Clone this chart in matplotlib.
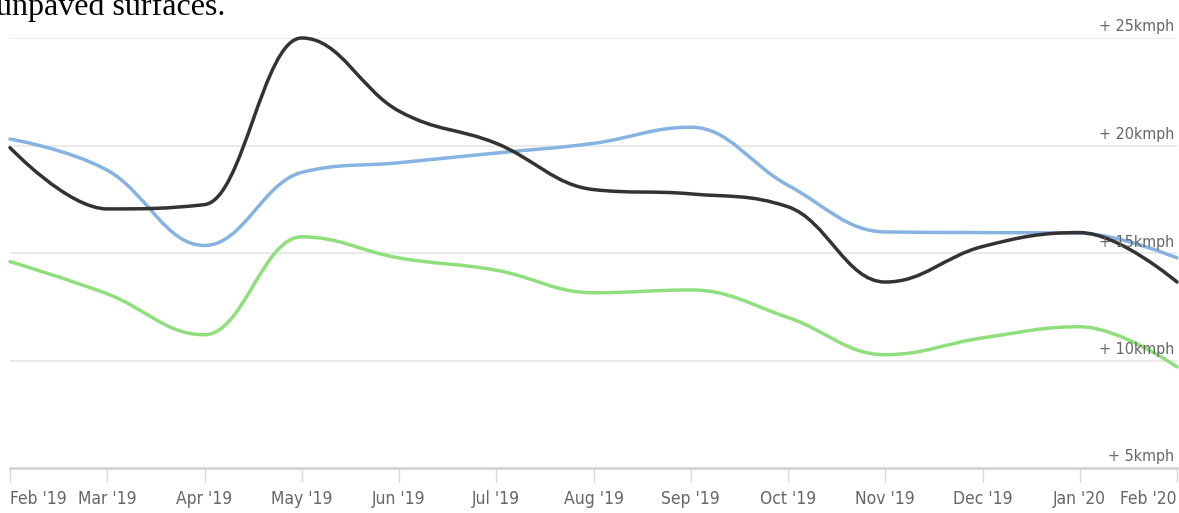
import matplotlib.pyplot as plt
from matplotlib.path import Path
from matplotlib.patches import PathPatch

# month labels along the bottom axis
months = ["Feb '19", "Mar '19", "Apr '19", "May '19", "Jun '19", "Jul '19", "Aug '19",
          "Sep '19", "Oct '19", "Nov '19", "Dec '19", "Jan '20", "Feb '20"]

# average speeds (kmph), one value per month
speed_black = [19.9, 17.05, 17.25, 25.0, 21.6, 20.1, 17.95, 17.75, 17.15, 13.65, 15.3, 15.95, 13.65]
speed_blue = [20.3, 18.85, 15.35, 18.75, 19.2, 19.65, 20.1, 20.85, 18.15, 15.98, 15.95, 15.92, 14.77]
speed_green = [14.6, 13.1, 11.2, 15.75, 14.77, 14.2, 13.15, 13.28, 12.0, 10.27, 11.05, 11.57, 9.7]

y_ticks = [5, 10, 15, 20, 25]


def spline_path(xs, ys, smoothing=1.5):
    # highcharts-like spline: bezier control points per point
    n = len(xs)
    left = [None] * n
    right = [None] * n
    for i in range(n):
        x, y = xs[i], ys[i]
        if i == 0 or i == n - 1:
            left[i] = (x, y)
            right[i] = (x, y)
            continue
        lx, ly = xs[i - 1], ys[i - 1]
        nx, ny = xs[i + 1], ys[i + 1]
        d = smoothing + 1
        lcx = (smoothing * x + lx) / d
        lcy = (smoothing * y + ly) / d
        rcx = (smoothing * x + nx) / d
        rcy = (smoothing * y + ny) / d
        if rcx != lcx:
            corr = (rcy - lcy) * (rcx - x) / (rcx - lcx) + y - rcy
            lcy += corr
            rcy += corr
        if lcy > ly and lcy > y:
            lcy = max(ly, y)
            rcy = 2 * y - lcy
        elif lcy < ly and lcy < y:
            lcy = min(ly, y)
            rcy = 2 * y - lcy
        if rcy > ny and rcy > y:
            rcy = max(ny, y)
            lcy = 2 * y - rcy
        elif rcy < ny and rcy < y:
            rcy = min(ny, y)
            lcy = 2 * y - rcy
        left[i] = (lcx, lcy)
        right[i] = (rcx, rcy)
    verts = [(xs[0], ys[0])]
    codes = [Path.MOVETO]
    for i in range(1, n):
        verts += [right[i - 1], left[i], (xs[i], ys[i])]
        codes += [Path.CURVE4] * 3
    return Path(verts, codes)


fig = plt.figure(figsize=(11.79, 5.13), dpi=100)
ax = fig.add_axes([10 / 1179, 45 / 513, 1167 / 1179, 430 / 513])

x = list(range(len(months)))
for vals, col in [(speed_blue, "#86b3e1"), (speed_green, "#8fe07c"), (speed_black, "#333333")]:
    ax.add_patch(PathPatch(spline_path(x, vals), fill=False, edgecolor=col, lw=2.5,
                           capstyle="round", joinstyle="round", clip_on=False))

ax.set_xlim(0, 12)
ax.set_ylim(5, 25)

for v in y_ticks[1:]:
    ax.axhline(v, color="#e6e6e6", lw=1.2, zorder=0)

for s in ["top", "left", "right"]:
    ax.spines[s].set_visible(False)
ax.spines["bottom"].set_color("#d0d0d0")
ax.spines["bottom"].set_linewidth(1.8)

ax.set_yticks([])
for v in y_ticks:
    ax.annotate("+ %dkmph" % v, xy=(12, v), xytext=(-3, 11), textcoords="offset pixels",
                ha="right", va="center", fontsize=11.5, color="#666666",
                family="DejaVu Sans", fontstretch="condensed")

ax.set_xticks(x)
ax.set_xticklabels(months, fontsize=12.5, color="#666666",
                   family="DejaVu Sans", fontstretch="condensed")
ax.tick_params(axis="x", length=10, width=1, color="#d8d8d8", pad=6)
labels = ax.get_xticklabels()
labels[0].set_ha("left")
labels[-1].set_ha("right")

fig.text(-0.003, (513 - 15) / 513, "unpaved surfaces.", fontsize=23,
         family="Liberation Serif", va="baseline", ha="left")

fig.savefig("out.png", dpi=100)
